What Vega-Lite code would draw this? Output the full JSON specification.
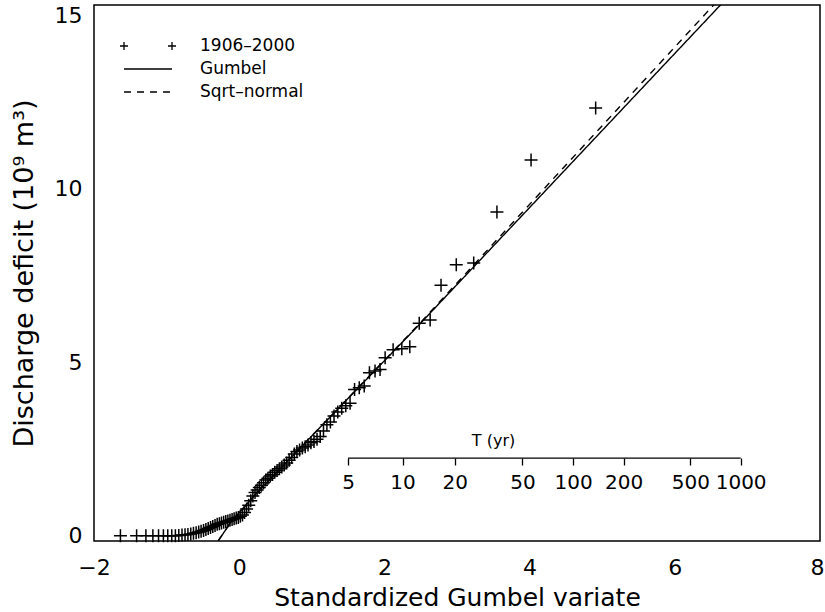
{
  "$schema": "https://vega.github.io/schema/vega-lite/v6.json",
  "width": 726,
  "height": 536,
  "autosize": {"type": "none"},
  "padding": {"left": 94, "top": 5, "right": 5, "bottom": 71},
  "background": "white",
  "config": {
    "view": {"stroke": "black", "strokeWidth": 1.5},
    "font": "DejaVu Sans",
    "axis": {
      "domain": false, "grid": false, "tickColor": "black", "tickWidth": 1.3,
      "labelColor": "black", "titleColor": "black",
      "labelFont": "DejaVu Sans", "titleFont": "DejaVu Sans",
      "labelFontWeight": "normal", "titleFontWeight": "normal",
      "labelFlush": false, "labelOverlap": false, "labelBound": false
    },
    "legend": {
      "orient": "none", "title": null, "padding": 0,
      "symbolSize": 256, "symbolOffset": 0, "labelOffset": 43, "rowPadding": 6,
      "labelFontSize": 17, "labelFont": "DejaVu Sans", "labelColor": "black",
      "symbolStrokeWidth": 1.3, "symbolStrokeColor": "black", "symbolFillColor": "transparent"
    }
  },
  "datasets": {
    "obs": [
      {"x": -1.636, "y": 0}, {"x": -1.413, "y": 0}, {"x": -1.285, "y": 0}, {"x": -1.189, "y": 0},
      {"x": -1.111, "y": 0}, {"x": -1.044, "y": 0}, {"x": -0.984, "y": 0}, {"x": -0.929, "y": 0},
      {"x": -0.879, "y": 0}, {"x": -0.832, "y": 0.01}, {"x": -0.788, "y": 0.02}, {"x": -0.746, "y": 0.03},
      {"x": -0.706, "y": 0.04}, {"x": -0.667, "y": 0.05}, {"x": -0.63, "y": 0.07}, {"x": -0.593, "y": 0.09},
      {"x": -0.558, "y": 0.11}, {"x": -0.525, "y": 0.13}, {"x": -0.491, "y": 0.15}, {"x": -0.459, "y": 0.18},
      {"x": -0.427, "y": 0.21}, {"x": -0.395, "y": 0.24}, {"x": -0.364, "y": 0.27}, {"x": -0.333, "y": 0.3},
      {"x": -0.303, "y": 0.33}, {"x": -0.273, "y": 0.35}, {"x": -0.244, "y": 0.37}, {"x": -0.214, "y": 0.39},
      {"x": -0.185, "y": 0.41}, {"x": -0.156, "y": 0.43}, {"x": -0.127, "y": 0.45}, {"x": -0.098, "y": 0.47},
      {"x": -0.07, "y": 0.49}, {"x": -0.041, "y": 0.51}, {"x": -0.012, "y": 0.53}, {"x": 0.016, "y": 0.56},
      {"x": 0.045, "y": 0.6}, {"x": 0.074, "y": 0.67}, {"x": 0.102, "y": 0.77}, {"x": 0.131, "y": 0.88},
      {"x": 0.159, "y": 1.01}, {"x": 0.188, "y": 1.15}, {"x": 0.218, "y": 1.25}, {"x": 0.247, "y": 1.32},
      {"x": 0.277, "y": 1.39}, {"x": 0.306, "y": 1.46}, {"x": 0.336, "y": 1.53}, {"x": 0.366, "y": 1.61},
      {"x": 0.396, "y": 1.66}, {"x": 0.428, "y": 1.72}, {"x": 0.459, "y": 1.77}, {"x": 0.49, "y": 1.83},
      {"x": 0.522, "y": 1.88}, {"x": 0.554, "y": 1.93}, {"x": 0.587, "y": 1.98}, {"x": 0.62, "y": 2.04},
      {"x": 0.654, "y": 2.1}, {"x": 0.688, "y": 2.18}, {"x": 0.723, "y": 2.26}, {"x": 0.759, "y": 2.36},
      {"x": 0.795, "y": 2.43}, {"x": 0.832, "y": 2.47}, {"x": 0.87, "y": 2.53}, {"x": 0.909, "y": 2.57},
      {"x": 0.948, "y": 2.62}, {"x": 0.988, "y": 2.68}, {"x": 1.03, "y": 2.72}, {"x": 1.072, "y": 2.78},
      {"x": 1.116, "y": 2.86}, {"x": 1.161, "y": 3.02}, {"x": 1.208, "y": 3.2}, {"x": 1.256, "y": 3.28},
      {"x": 1.306, "y": 3.45}, {"x": 1.358, "y": 3.57}, {"x": 1.412, "y": 3.68}, {"x": 1.468, "y": 3.75},
      {"x": 1.527, "y": 3.82}, {"x": 1.589, "y": 4.22}, {"x": 1.654, "y": 4.27}, {"x": 1.722, "y": 4.32},
      {"x": 1.794, "y": 4.7}, {"x": 1.871, "y": 4.75}, {"x": 1.94, "y": 4.79}, {"x": 2.01, "y": 5.13},
      {"x": 2.12, "y": 5.36}, {"x": 2.24, "y": 5.39}, {"x": 2.35, "y": 5.45}, {"x": 2.48, "y": 6.13},
      {"x": 2.63, "y": 6.22}, {"x": 2.78, "y": 7.22}, {"x": 2.99, "y": 7.81}, {"x": 3.23, "y": 7.86},
      {"x": 3.55, "y": 9.33}, {"x": 4.02, "y": 10.83}, {"x": 4.91, "y": 12.33}
    ],
    "gumbel": [
      {"x": -0.29, "y": -0.15}, {"x": -0.12, "y": 0.38}, {"x": 0.19, "y": 1.12}, {"x": 2.45, "y": 6.02}, {"x": 6.8, "y": 15.68}
    ],
    "sqrtnormal": [
      {"x": -0.29, "y": -0.15}, {"x": -0.12, "y": 0.38}, {"x": 0.19, "y": 1.12}, {"x": 2.45, "y": 6.04}, {"x": 6.8, "y": 15.9}
    ]
  },
  "layer": [
    {
      "data": {"name": "obs"},
      "mark": {"type": "point", "shape": "M-1,0H1M0,-1V1", "size": 169, "filled": false, "strokeWidth": 1.5, "opacity": 1},
      "encoding": {
        "x": {
          "field": "x", "type": "quantitative",
          "scale": {"domain": [-2, 8], "nice": false, "zero": false},
          "axis": {
            "orient": "bottom",
            "values": [-2, -1.5, -1, -0.5, 0, 0.5, 1, 1.5, 2, 2.5, 3, 3.5, 4, 4.5, 5, 5.5, 6, 6.5, 7, 7.5, 8],
            "labelExpr": "datum.value % 2 === 0 ? format(datum.value, 'd') : ''",
            "labelFontSize": 22, "labelPadding": 16, "tickSize": 0,
            "labelAlign": {"condition": {"test": "datum.value === 8", "value": "right"}, "value": "center"},
            "labelOffset": {"condition": {"test": "datum.value === 8", "value": 4}, "value": 0},
            "title": "Standardized Gumbel variate", "titleFontSize": 25,
            "titleX": 363, "titleY": 64, "titleBaseline": "alphabetic", "titleAlign": "center",
            "encode": {
              "ticks": {"update": {"y2": {"signal": "datum.value % 2 === 0 ? -12 : -6"}}}
            }
          }
        },
        "y": {
          "field": "y", "type": "quantitative",
          "scale": {"domain": [-0.15, 15.3], "nice": false, "zero": false},
          "axis": {
            "orient": "left",
            "values": [0, 1, 2, 3, 4, 5, 6, 7, 8, 9, 10, 11, 12, 13, 14, 15],
            "labelExpr": "datum.value % 5 === 0 ? format(datum.value, 'd') : ''",
            "labelFontSize": 22, "labelPadding": 12, "tickSize": 0,
            "title": "Discharge deficit (10⁹ m³)", "titleFontSize": 27,
            "titleX": -62, "titleBaseline": "alphabetic",
            "encode": {"ticks": {"update": {"x2": {"signal": "datum.value % 5 === 0 ? 12 : 6"}}}}
          }
        },
        "color": {
          "datum": "1906–2000", "type": "nominal",
          "scale": {"domain": ["1906–2000"], "range": ["black"]},
          "legend": {
            "legendX": 45, "legendY": 32,
            "symbolType": "M-3.5,0H-2.5M-3,-0.5V0.5M2.5,0H3.5M3,-0.5V0.5"
          }
        }
      }
    },
    {
      "data": {"name": "gumbel"},
      "mark": {"type": "line", "color": "black", "strokeWidth": 1.4, "clip": true},
      "encoding": {
        "x": {
          "field": "x", "type": "quantitative",
          "scale": {"domain": [-2, 8], "nice": false, "zero": false},
          "axis": {
            "orient": "top",
            "values": [-2, -1.5, -1, -0.5, 0, 0.5, 1, 1.5, 2, 2.5, 3, 3.5, 4, 4.5, 5, 5.5, 6, 6.5, 7, 7.5, 8],
            "labels": false, "title": null, "tickSize": 0,
            "encode": {"ticks": {"update": {"y2": {"signal": "datum.value % 2 === 0 ? 12 : 6"}}}}
          }
        },
        "y": {
          "field": "y", "type": "quantitative",
          "scale": {"domain": [-0.15, 15.3], "nice": false, "zero": false},
          "axis": {
            "orient": "right",
            "values": [0, 1, 2, 3, 4, 5, 6, 7, 8, 9, 10, 11, 12, 13, 14, 15],
            "labels": false, "title": null, "tickSize": 0,
            "encode": {"ticks": {"update": {"x2": {"signal": "datum.value % 5 === 0 ? -12 : -6"}}}}
          }
        },
        "strokeDash": {
          "datum": "Gumbel", "type": "nominal",
          "scale": {"domain": ["Gumbel", "Sqrt–normal"], "range": [[1, 0], [7, 6]]},
          "legend": {
            "legendX": 45, "legendY": 55,
            "symbolType": "M-3,0H3"
          }
        }
      }
    },
    {
      "data": {"name": "sqrtnormal"},
      "mark": {"type": "line", "color": "black", "strokeWidth": 1.4, "clip": true},
      "encoding": {
        "x": {"field": "x", "type": "quantitative", "scale": {"domain": [-2, 8], "nice": false, "zero": false}, "axis": null},
        "y": {"field": "y", "type": "quantitative", "scale": {"domain": [-0.15, 15.3], "nice": false, "zero": false}, "axis": null},
        "strokeDash": {"datum": "Sqrt–normal", "type": "nominal"}
      }
    },
    {
      "data": {"values": [{}]},
      "mark": {"type": "rule", "color": "black", "strokeWidth": 1.4},
      "encoding": {
        "x": {
          "datum": 1.5, "type": "quantitative",
          "scale": {"domain": [-2, 8], "nice": false, "zero": false},
          "axis": {
            "orient": "bottom", "offset": -83,
            "values": [1.5, 2.25, 2.97, 3.902, 4.6, 5.296, 6.214, 6.907],
            "labelExpr": "datum.value < 2 ? '5' : datum.value < 2.5 ? '10' : datum.value < 3.5 ? '20' : datum.value < 4.2 ? '50' : datum.value < 5 ? '100' : datum.value < 5.8 ? '200' : datum.value < 6.5 ? '500' : '1000'",
            "labelFontSize": 20, "labelPadding": 7, "tickSize": 7,
            "title": "T (yr)", "titleFontSize": 16, "titleX": 399, "titleY": -13,
            "titleBaseline": "alphabetic", "titleAlign": "center"
          }
        },
        "x2": {"datum": 6.907},
        "y": {"datum": 2.24, "type": "quantitative", "scale": {"domain": [-0.15, 15.3], "nice": false, "zero": false}, "axis": null}
      }
    }
  ],
  "resolve": {"axis": {"x": "independent", "y": "independent"}}
}
